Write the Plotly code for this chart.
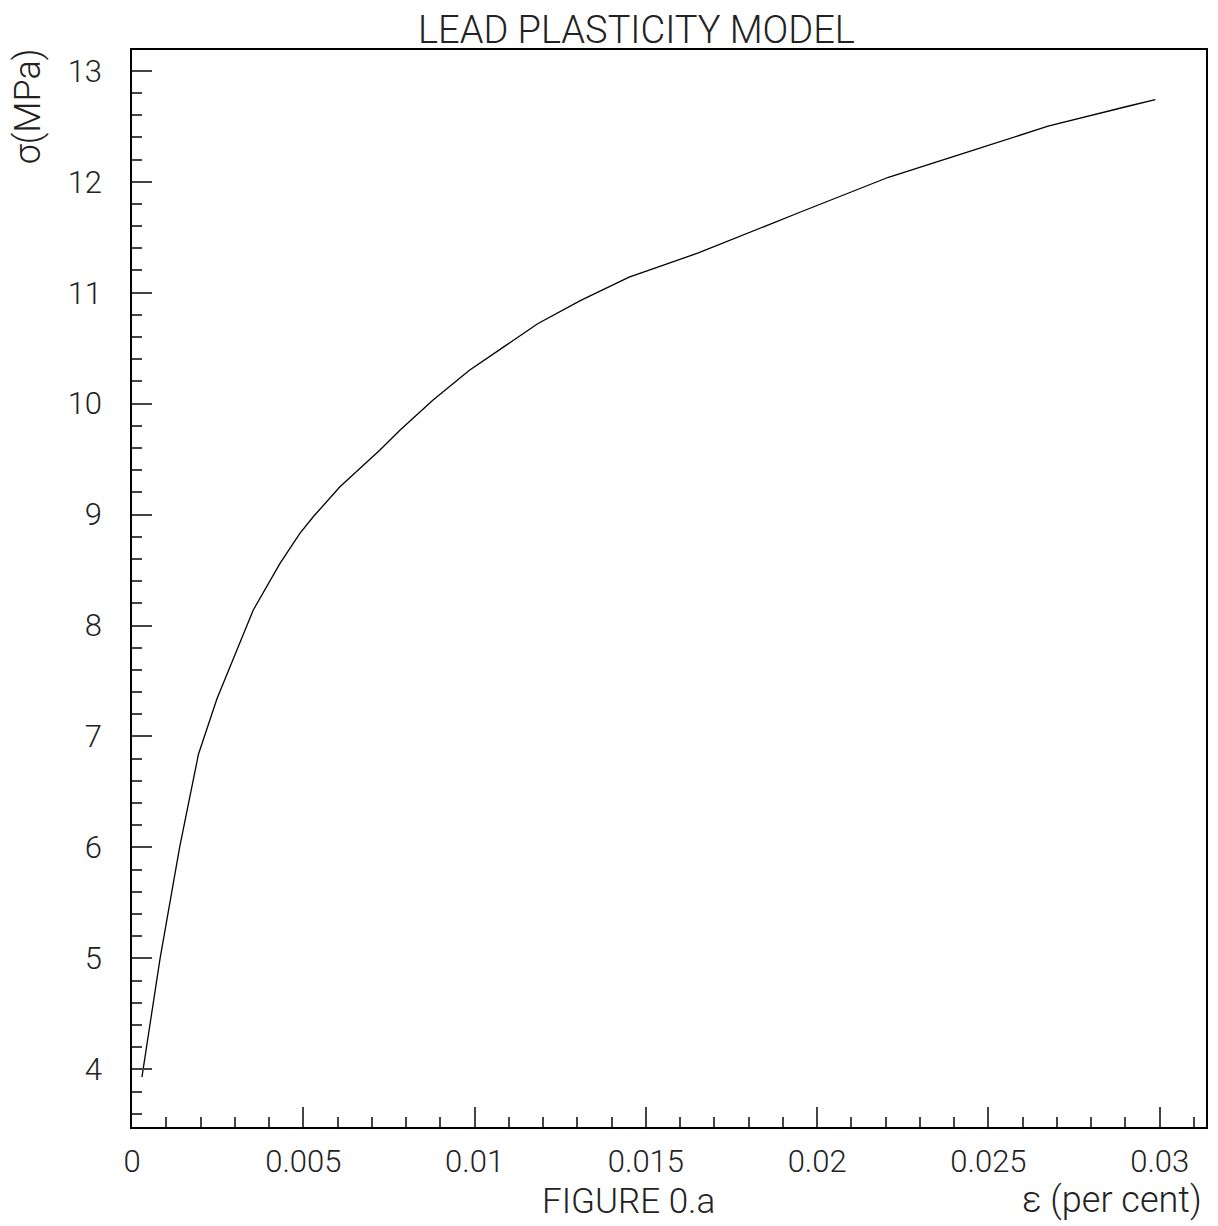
import plotly.graph_objects as go

# Data
eps = [0.00029, 0.00082, 0.00139, 0.00194, 0.00248, 0.00325, 0.00354, 0.00432,
       0.00490, 0.00529, 0.00607, 0.00723, 0.00782, 0.00878, 0.00985, 0.01184,
       0.01310, 0.01451, 0.01655, 0.01946, 0.02208, 0.02461, 0.02674, 0.02907, 0.02987]
sigma = [3.93, 5.00, 6.00, 6.84, 7.34, 7.93, 8.14, 8.56, 8.83, 8.98, 9.25, 9.58,
         9.76, 10.03, 10.30, 10.72, 10.93, 11.14, 11.36, 11.72, 12.04, 12.29,
         12.50, 12.68, 12.74]

x_tickvals = [0, 0.005, 0.01, 0.015, 0.02, 0.025, 0.03]
x_ticktext = ["0", "0.005", "0.01", "0.015", "0.02", "0.025", "0.03"]
y_tickvals = [4, 5, 6, 7, 8, 9, 10, 11, 12, 13]
y_ticktext = [str(v) for v in y_tickvals]

W, H = 1218, 1226
L, R, T, B = 132, 1208, 50, 1127

FONT = "Roboto"

def px2paper(px, py):
    return (px - L) / (R - L), (B - py) / (B - T)

fig = go.Figure()
fig.add_trace(go.Scatter(x=eps, y=sigma, mode="lines",
                         line=dict(color="black", width=1.3),
                         showlegend=False, hoverinfo="skip"))

axis_common = dict(showgrid=False, zeroline=False, showline=True, linecolor="black",
                   linewidth=1.5, mirror=True, ticks="inside", tickcolor="#444",
                   tickwidth=1.5, ticklen=20,
                   tickfont=dict(family=FONT, size=31, color="#222", weight=300))

fig.update_layout(
    width=W, height=H,
    margin=dict(l=L, r=W - R, t=T, b=H - B),
    paper_bgcolor="white", plot_bgcolor="white",
    xaxis=dict(range=[0, 0.03135], tickvals=x_tickvals, ticktext=x_ticktext,
               minor=dict(dtick=0.001, tick0=0, ticks="inside", ticklen=10,
                          tickcolor="#444", tickwidth=1.5),
               ticklabelstandoff=6, **axis_common),
    yaxis=dict(range=[3.48, 13.187], tickvals=y_tickvals, ticktext=y_ticktext,
               minor=dict(dtick=0.2, tick0=0, ticks="inside", ticklen=10,
                          tickcolor="#444", tickwidth=1.5),
               ticklabelstandoff=22, **axis_common),
)

annots = []
x, y = px2paper(637, 30)
annots.append(dict(text="LEAD PLASTICITY MODEL", x=x, y=y, xref="paper", yref="paper",
                   xanchor="center", yanchor="middle", showarrow=False,
                   font=dict(family=FONT, size=38, color="#222", weight=300)))
x, y = px2paper(28, 46)
annots.append(dict(text="σ(MPa)", x=x, y=y, xref="paper", yref="paper",
                   xanchor="center", yanchor="top", textangle=-90, showarrow=False,
                   font=dict(family=FONT, size=36, color="#222", weight=300)))
x, y = px2paper(629, 1201)
annots.append(dict(text="FIGURE 0.a", x=x, y=y, xref="paper", yref="paper",
                   xanchor="center", yanchor="middle", showarrow=False,
                   font=dict(family=FONT, size=35, color="#222", weight=300)))
x, y = px2paper(1206, 1200)
annots.append(dict(text="ε (per cent)", x=x, y=y, xref="paper", yref="paper",
                   xanchor="right", yanchor="middle", showarrow=False,
                   font=dict(family=FONT, size=36, color="#222", weight=300)))
fig.update_layout(annotations=annots)

fig.write_html("out.html")
